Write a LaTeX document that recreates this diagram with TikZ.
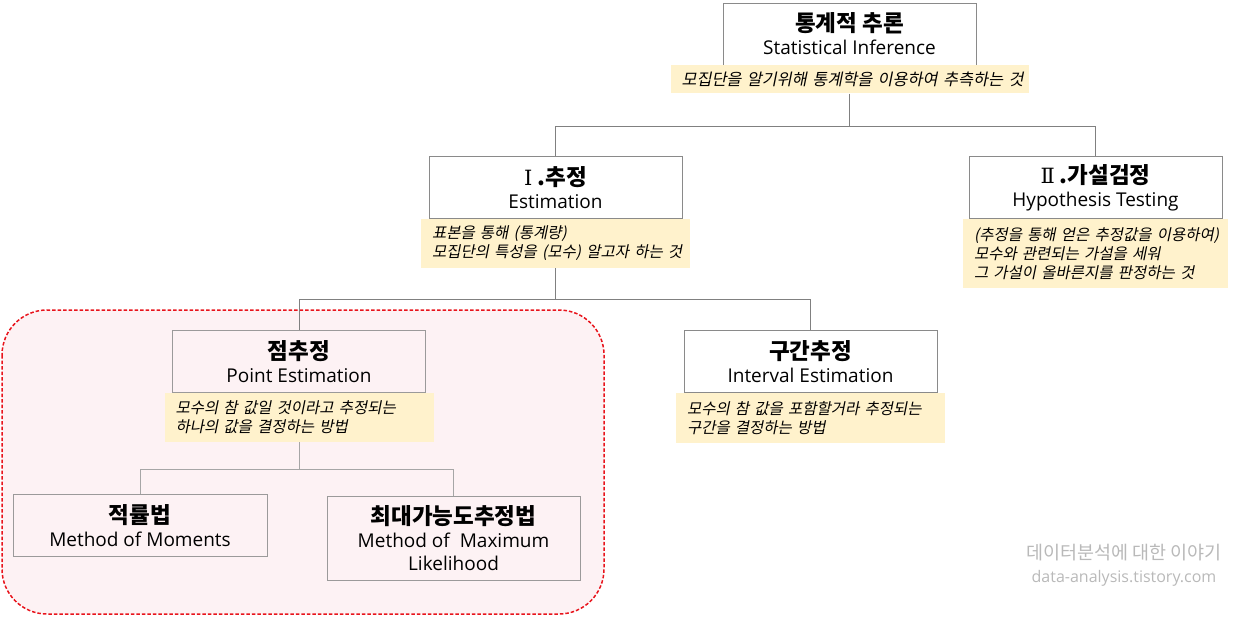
\documentclass[tikz,border=0pt]{standalone}
\usepackage{fontspec}
\setmainfont{Noto Sans CJK KR}
\newfontfamily\enfont{Open Sans}
\newfontfamily\numfont{DejaVu Serif}
\newfontfamily\notefont[FakeSlant=0.2]{Noto Sans CJK KR}
\usetikzlibrary{positioning}

\definecolor{notebg}{HTML}{FFF2CC}
\definecolor{pinkbg}{HTML}{FDF2F4}
\definecolor{boxline}{HTML}{8A8A8A}
\definecolor{areared}{HTML}{E8141C}

\newcommand{\notegap}{\hspace*{11pt}}

\tikzset{
  topic/.style={draw=boxline, fill=white, minimum width=253pt, minimum height=62pt,
    inner sep=0pt, align=center, font=\enfont\fontsize{19}{23}\selectfont},
  subtopic/.style={topic, fill=pinkbg, draw=boxline!85!pinkbg},
  note/.style={fill=notebg, inner sep=0pt, align=left,
    font=\notefont\fontsize{15.5}{19}\selectfont},
  link/.style={draw=gray, line width=0.8pt},
  sublink/.style={draw=gray!70, line width=0.8pt}
}
\newcommand{\kotitle}[1]{{\rmfamily\bfseries\fontsize{22.5}{24}\selectfont #1}}
\newcommand{\levelnum}[1]{{\numfont\mdseries\fontsize{21}{24}\selectfont #1\hspace{5pt}}}

\begin{document}
\begin{tikzpicture}[x=1pt, y=-1pt]
    \useasboundingbox (0,0) rectangle (1238,616);

    % Point estimation area (red, dashed)
    \draw[areared, line width=1.5pt, dash pattern=on 3.5pt off 2pt,
        fill=pinkbg, rounded corners=45pt] (2,310) rectangle (604,614);

    % Top level
    \node[topic] (top) at (849.5,34) {\kotitle{통계적 추론}\\Statistical Inference};
    \node[note, text width=358pt, minimum height=28pt, below=0pt of top,
        font=\notefont\fontsize{16.3}{19}\selectfont] (topnote)
        {\notegap 모집단을 알기위해 통계학을 이용하여 추측하는 것};

    % Estimation / Hypothesis testing
    \node[topic] (est) at (555.5,187.5) {\kotitle{\levelnum{Ⅰ}.추정}\\Estimation};
    \node[note, text width=269pt, minimum height=49pt, below=0pt of est] (estnote)
        {\notegap 표본을 통해 (통계량)\\\notegap 모집단의 특성을 (모수) 알고자 하는 것};

    \node[topic] (hyp) at (1095.5,187.5) {\kotitle{\levelnum{Ⅱ}.가설검정}\\Hypothesis Testing};
    \node[note, text width=265pt, minimum height=69pt, below=0pt of hyp] (hypnote)
        {\notegap (추정을 통해 얻은 추정값을 이용하여)\\\notegap 모수와 관련되는 가설을 세워\\\notegap 그 가설이 올바른지를 판정하는 것};

    % Point / Interval estimation
    \node[subtopic] (pt) at (299,361.5) {\kotitle{점추정}\\Point Estimation};
    \node[note, text width=269pt, minimum height=49pt, below=0pt of pt] (ptnote)
        {\notegap 모수의 참 값일 것이라고 추정되는\\\notegap 하나의 값을 결정하는 방법};

    \node[topic] (iv) at (810.5,361.5) {\kotitle{구간추정}\\Interval Estimation};
    \node[note, text width=269pt, minimum height=50pt, below=0pt of iv] (ivnote)
        {\notegap 모수의 참 값을 포함할거라 추정되는\\\notegap 구간을 결정하는 방법};

    % Methods
    \node[subtopic, minimum width=254pt] (mom) at (140,525.5) {\kotitle{적률법}\\Method of Moments};
    \node[subtopic, minimum height=84pt] (mle) at (453.5,538)
        {\kotitle{최대가능도추정법}\\Method of \ Maximum\\Likelihood};

    % Connectors
    \path (topnote.south) ++(0,33) coordinate (j1);
    \draw[link] (topnote.south) -- (j1) -| (est.north);
    \draw[link] (j1) -| (hyp.north);

    \path (estnote.south) ++(0,31) coordinate (j2);
    \draw[link] (estnote.south) -- (j2) -| (pt.north);
    \draw[link] (j2) -| (iv.north);

    \path (ptnote.south) ++(0,27) coordinate (j3);
    \draw[sublink] (ptnote.south) -- (j3) -| (mom.north);
    \draw[sublink] (j3) -| (mle.north);

    % Watermark
    \node[anchor=north, align=center, text=gray!55, inner sep=0pt,
        font=\fontsize{18.5}{23}\selectfont] (mark) at (1124,544)
        {데이터분석에 대한 이야기\\{\enfont\fontsize{16}{20}\selectfont data-analysis.tistory.com}};
\end{tikzpicture}
\end{document}
